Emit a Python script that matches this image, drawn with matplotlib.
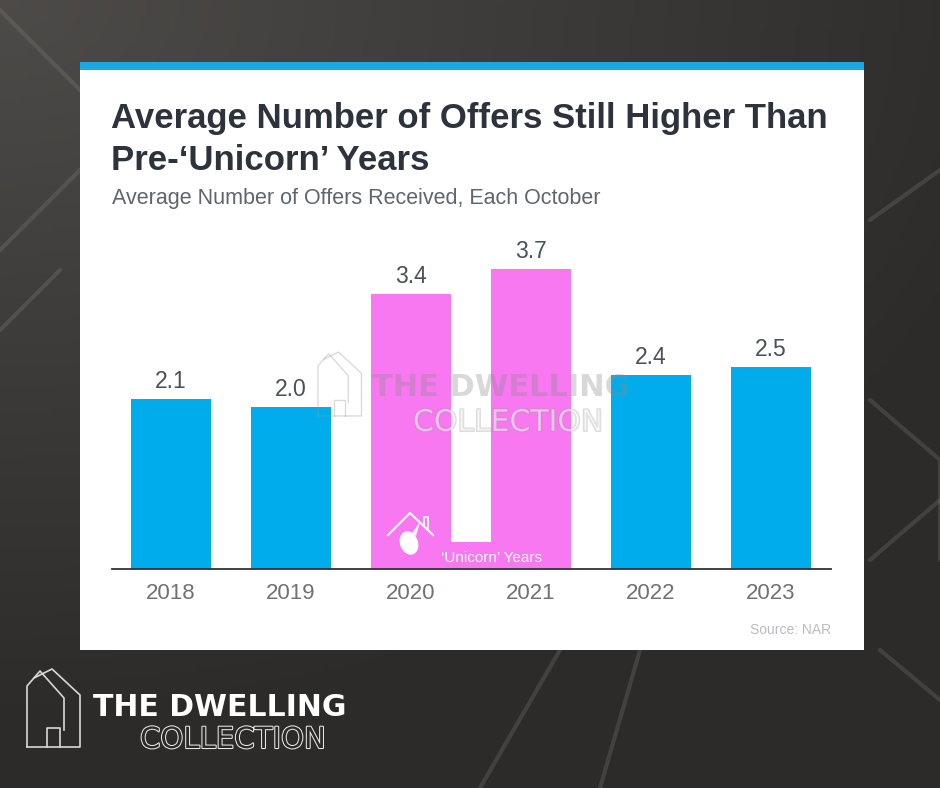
import numpy as np
import matplotlib
matplotlib.use('Agg')
import matplotlib.pyplot as plt
import matplotlib.patheffects as pe
from matplotlib.patches import Rectangle, Ellipse, Polygon

# ============================================================
# Data
# ============================================================
years = ['2018', '2019', '2020', '2021', '2022', '2023']
offers = [2.1, 2.0, 3.4, 3.7, 2.4, 2.5]
unicorn = [False, False, True, True, False, False]

title_1 = 'Average Number of Offers Still Higher Than'
title_2 = 'Pre-\u2018Unicorn\u2019 Years'
subtitle = 'Average Number of Offers Received, Each October'
source = 'Source: NAR'
unicorn_label = '\u2018Unicorn\u2019 Years'

BLUE = '#00ACEB'
PINK = '#F878F1'
W, H = 940, 788

plt.rcParams['font.family'] = ['Liberation Sans', 'DejaVu Sans']

fig = plt.figure(figsize=(W / 100, H / 100), dpi=100)


def pixel_axes(z):
    a = fig.add_axes([0, 0, 1, 1], zorder=z)
    a.set_xlim(0, W)
    a.set_ylim(H, 0)
    a.axis('off')
    a.patch.set_alpha(0)
    return a


# ============================================================
# Background + white panel
# ============================================================
bg = pixel_axes(-2)
gx, gy = np.meshgrid(np.linspace(0, 1, 200), np.linspace(0, 1, 170))
shade = 0.31 - 0.13 * np.clip(np.hypot(gx * 0.9, gy * 1.1), 0, 1)
img = np.dstack([shade * 0.98, shade * 0.95, shade * 0.92])
bg.imshow(img, extent=(0, W, H, 0), aspect='auto', zorder=0)

# faint geometric strokes in the backdrop
for pts in [[(0, 250), (120, 130), (0, 10)], [(0, 330), (60, 270)],
            [(870, 220), (940, 170)], [(870, 400), (940, 460), (940, 560)],
            [(870, 560), (940, 500)], [(480, 788), (560, 650)],
            [(600, 788), (640, 650)], [(880, 650), (940, 700)]]:
    xs, ys = zip(*pts)
    bg.plot(xs, ys, color='#8a8580', lw=3, alpha=0.25, solid_capstyle='round')

bg.add_patch(Rectangle((80, 62), 784, 588, facecolor='white', edgecolor='none', zorder=2))
bg.add_patch(Rectangle((80, 62), 784, 8, facecolor='#1AA7E2', edgecolor='none', zorder=3))

# ============================================================
# Bar chart
# ============================================================
ax = fig.add_axes([112 / W, (H - 569) / H, 719 / W, 340 / H], zorder=0)
ax.patch.set_alpha(0)
x = np.arange(len(years))
bw = 0.667
colors = [PINK if u else BLUE for u in unicorn]
ax.bar(x, offers, width=bw, color=colors, zorder=2)

# pink band joining the 'unicorn' bars
ux = x[np.array(unicorn)]
ax.add_patch(Rectangle((ux.min() - bw / 2, 0), ux.max() - ux.min() + bw, 0.33,
                       facecolor=PINK, edgecolor='none', zorder=2))
ax.text(ux.min() + 0.255, 0.14, unicorn_label, color='white', fontsize=11,
        ha='left', va='center', zorder=4)

for xi, v in zip(x, offers):
    ax.text(xi, v + 0.075, f'{v:.1f}', ha='center', va='bottom', fontsize=16.5,
            color='#4B5059')

ax.set_xlim(-0.49, 5.5)
ax.set_ylim(0, 4.2)
ax.set_xticks(x)
ax.set_xticklabels(years, fontsize=16, color='#6D7278')
ax.tick_params(axis='x', length=0, pad=10)
ax.set_yticks([])
for s in ['top', 'left', 'right']:
    ax.spines[s].set_visible(False)
ax.spines['bottom'].set_color('#333333')
ax.spines['bottom'].set_linewidth(1.3)

# ============================================================
# Texts, watermark and logo
# ============================================================
ov = pixel_axes(5)
ov.text(111, 128, title_1, fontsize=25, fontweight='bold', color='#2D333D', va='baseline')
ov.text(111, 170, title_2, fontsize=25, fontweight='bold', color='#2D333D', va='baseline')
ov.text(112, 204, subtitle, fontsize=15.5, color='#5E656E', va='baseline')
ov.text(831, 630, source, fontsize=10, color='#B9BDC1', ha='right', va='center')

# little house + unicorn icon on the pink band
ov.plot([388, 410, 433], [535, 513, 535], color='white', lw=1.5)
ov.plot([424, 424, 428, 428], [526, 517, 517, 530], color='white', lw=1.3)
ov.add_patch(Ellipse((409, 543), 18, 24, angle=-20, facecolor='white', edgecolor='none'))
ov.add_patch(Polygon([(412, 533), (420, 522), (416, 536)], facecolor='white', edgecolor='none'))


def house(a, x0, y0, s, color, lw, alpha=1.0):
    segs = [[(0, 78), (0, 17), (13, 2), (37, 29), (37, 61)],
            [(7, 9), (25, 0), (53, 26), (53, 78), (0, 78)],
            [(20, 78), (20, 59), (33, 59), (33, 78)]]
    for seg in segs:
        xs = [x0 + p[0] * s for p in seg]
        ys = [y0 + p[1] * s for p in seg]
        a.plot(xs, ys, color=color, lw=lw, alpha=alpha)


def brand(a, x1, y1, x2, y2, fs1, fs2, fill, edge, bgc, alpha=1.0):
    a.text(x1, y1, 'THE DWELLING', fontsize=fs1, fontweight='bold', color=fill,
           family='DejaVu Sans', va='baseline', alpha=alpha)
    a.text(x2, y2, 'COLLECTION', fontsize=fs2, color=bgc, family='DejaVu Sans',
           va='baseline', alpha=alpha,
           path_effects=[pe.Stroke(linewidth=1.5, foreground=edge, alpha=alpha), pe.Normal()])


# faint watermark in the middle of the chart
house(ov, 318, 352, 0.82, '#9A9A9A', 1.0, alpha=0.35)
brand(ov, 372, 396, 413, 431, 22, 21.5, '#8A8A8A', '#9A9A9A', 'white', alpha=0.33)

# logo bottom-left
house(ov, 27, 669, 1.0, '#D8D8D8', 1.2)
brand(ov, 93, 716, 140, 748, 21.5, 21, 'white', '#E8E8E8', '#2C2A27')

fig.savefig('out.png', dpi=100)
